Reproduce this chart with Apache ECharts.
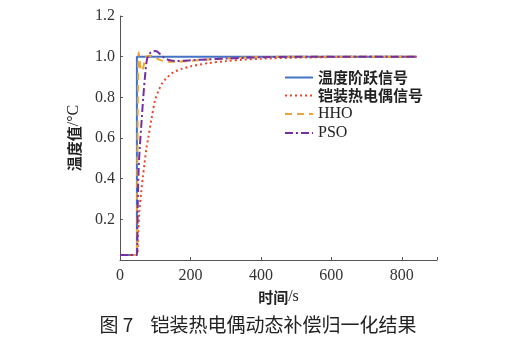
<!DOCTYPE html>
<html><head><meta charset="utf-8">
<script src="https://cdn.jsdelivr.net/npm/echarts@6/dist/echarts.min.js"></script>
<style>html,body{margin:0;padding:0;background:#fff}#c{width:516px;height:350px}</style>
</head><body><div id="c"></div>
<script>
const seriesNames = ['温度阶跃信号', '铠装热电偶信号', 'HHO', 'PSO'];
const stepT = [0, 48, 48, 842];
const stepV = [0.025, 0.025, 1.0, 1.0];
const tcT = [0, 48, 51, 55, 60, 65, 70, 75, 80, 90, 100, 110, 120, 135, 150, 175, 200, 250, 300, 350, 400, 500, 600, 700, 842];
const tcV = [0.025, 0.025, 0.12, 0.24, 0.33, 0.41, 0.48, 0.55, 0.6, 0.7, 0.79, 0.835, 0.87, 0.9, 0.922, 0.94, 0.952, 0.968, 0.978, 0.985, 0.99, 0.995, 0.998, 1.0, 1.0];
const hhoT = [0, 48, 49, 51, 53, 55, 57, 59, 62, 65, 69, 73, 77, 85, 95, 105, 115, 125, 140, 160, 190, 220, 260, 300, 350, 400, 500, 600, 842];
const hhoV = [0.025, 0.025, 0.4, 0.85, 1.02, 1.0, 0.96, 0.935, 0.93, 0.94, 0.97, 0.995, 1.003, 1.005, 1.0, 0.99, 0.983, 0.978, 0.975, 0.975, 0.978, 0.982, 0.987, 0.991, 0.995, 0.998, 1.0, 1.0, 1.0];
const psoT = [0, 48, 50, 53, 56, 60, 66, 72, 77, 84, 92, 100, 106, 114, 122, 132, 145, 160, 180, 210, 250, 300, 350, 400, 500, 842];
const psoV = [0.025, 0.025, 0.25, 0.45, 0.55, 0.65, 0.8, 0.92, 0.99, 1.015, 1.025, 1.028, 1.025, 1.012, 1.0, 0.988, 0.981, 0.979, 0.98, 0.983, 0.987, 0.991, 0.994, 0.997, 1.0, 1.0];
const xTicks = [0, 200, 400, 600, 800];
const yTicks = [0.2, 0.4, 0.6, 0.8, 1.0, 1.2];

const zip = (t, v) => t.map((x, i) => [x, v[i]]);
const serif = '"Liberation Serif", "Times New Roman", serif';
const cjkBold = '"Noto Sans CJK SC", sans-serif';

const chart = echarts.init(document.getElementById('c'), null, {renderer: 'canvas'});
chart.setOption({
  animation: false,
  backgroundColor: '#fff',
  grid: {left: 120, right: 79, top: 16, bottom: 90},
  xAxis: {
    type: 'value', min: 0, max: 900, interval: 200,
    name: '{c|时间}{e|/s}', nameLocation: 'middle', nameGap: 24,
    nameTextStyle: {rich: {
      c: {fontFamily: cjkBold, fontWeight: 'bold', fontSize: 15, color: '#222'},
      e: {fontFamily: serif, fontSize: 16, color: '#222'}}},
    axisLine: {lineStyle: {color: '#555', width: 1}},
    axisTick: {inside: true, length: 3, lineStyle: {color: '#555'}},
    splitLine: {show: false},
    axisLabel: {fontFamily: serif, fontSize: 16, color: '#333', margin: 8,
      formatter: v => xTicks.includes(v) ? String(v) : ''}
  },
  yAxis: {
    type: 'value', min: 0, max: 1.2, interval: 0.2,
    name: '{c|温度值}{e|/°C}', nameLocation: 'middle', nameGap: 38, nameRotate: 90,
    nameTextStyle: {rich: {
      c: {fontFamily: cjkBold, fontWeight: 'bold', fontSize: 15, color: '#222'},
      e: {fontFamily: serif, fontSize: 16, color: '#222'}}},
    axisLine: {show: true, lineStyle: {color: '#555', width: 1}},
    axisTick: {show: true, inside: true, length: 3, lineStyle: {color: '#555'}},
    splitLine: {show: false},
    axisLabel: {fontFamily: serif, fontSize: 16, color: '#333', margin: 5, showMinLabel: false,
      formatter: v => { const f = yTicks.find(t => Math.abs(t - v) < 1e-9); return f !== undefined ? f.toFixed(1) : ''; }}
  },
  legend: {
    orient: 'vertical', left: 279, top: 65, itemWidth: 28, itemHeight: 12, itemGap: 3,
    data: seriesNames,
    itemStyle: {opacity: 0, borderWidth: 0},
    formatter: n => /[A-Z]/.test(n) ? '{e|' + n + '}' : '{c|' + n + '}',
    textStyle: {padding: [0, 0, 0, 0], rich: {
      c: {fontFamily: cjkBold, fontWeight: 'bold', fontSize: 15, color: '#222', height: 14},
      e: {fontFamily: serif, fontSize: 16, color: '#222', height: 14}}}
  },
  series: [
    {name: seriesNames[0], type: 'line', data: zip(stepT, stepV), symbol: 'none', z: 2,
     lineStyle: {color: '#4472c4', width: 2}, itemStyle: {color: '#4472c4'}},
    {name: seriesNames[1], type: 'line', data: zip(tcT, tcV), symbol: 'none', smooth: 0.3, z: 3,
     lineStyle: {color: '#e8462a', width: 2, type: [2, 3]}, itemStyle: {color: '#e8462a'}},
    {name: seriesNames[2], type: 'line', data: zip(hhoT, hhoV), symbol: 'none', smooth: 0.3, z: 4,
     lineStyle: {color: '#eba535', width: 2, type: [7, 5]}, itemStyle: {color: '#eba535'}},
    {name: seriesNames[3], type: 'line', data: zip(psoT, psoV), symbol: 'none', smooth: 0.3, z: 5,
     lineStyle: {color: '#7430a0', width: 2, type: [8, 3, 2, 3]}, itemStyle: {color: '#7430a0'}}
  ],
  graphic: [{
    type: 'text', left: 'center', top: 315,
    style: {text: '图 7    铠装热电偶动态补偿归一化结果', font: '19px "Noto Sans CJK SC", sans-serif', fill: '#222'}
  }]
});
</script></body></html>
